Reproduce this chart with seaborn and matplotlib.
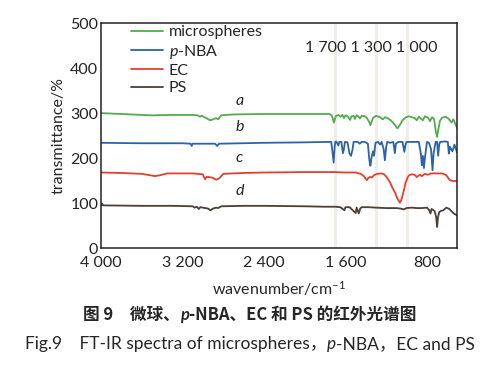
import numpy as np
import pandas as pd
import matplotlib
matplotlib.use("Agg")
import matplotlib.pyplot as plt
import seaborn as sns

# wavenumber (cm-1) / transmittance (%)
wn_micro = [4000, 3900, 3700, 3500, 3300, 3100, 3050, 3030, 3010, 2960, 2930, 2900, 2870, 2850, 2820,
            2700, 2400, 2000, 1760, 1735, 1713, 1695, 1670, 1650, 1630, 1615, 1600, 1580, 1555, 1540,
            1520, 1507, 1490, 1470, 1458, 1440, 1410, 1390, 1370, 1355, 1330, 1300, 1260, 1232, 1210,
            1180, 1150, 1120, 1090, 1070, 1040, 1010, 980, 950, 920, 900, 880, 860, 840, 820, 790,
            770, 750, 730, 712, 700, 690, 672, 650, 620, 590, 560, 540, 505]
t_micro = [300, 299, 297, 295, 296, 296, 295, 292, 294, 288, 284, 286, 289, 286, 295,
           297, 298, 298, 298, 295, 279, 293, 296, 292, 296, 289, 295, 293, 285, 293,
           294, 287, 295, 292, 288, 294, 293, 289, 282, 273, 289, 294, 291, 286, 291,
           288, 283, 275, 266, 272, 284, 290, 293, 291, 289, 284, 292, 288, 284, 293, 290,
           282, 291, 287, 258, 247, 262, 283, 290, 292, 288, 279, 286, 267]

wn_nba = [4000, 3600, 3200, 3120, 3110, 3100, 2880, 2860, 2840, 2400, 2000, 1760, 1740, 1728, 1716,
          1706, 1700, 1690, 1670, 1660, 1640, 1625, 1615, 1605, 1580, 1560, 1545, 1530, 1520, 1480,
          1460, 1440, 1410, 1380, 1365, 1355, 1345, 1330, 1320, 1305, 1280, 1260, 1245, 1225, 1213,
          1200, 1190, 1160, 1130, 1115, 1105, 1080, 1040, 1022, 1010, 1000, 960, 920, 880, 860, 850,
          840, 830, 820, 800, 780, 760, 745, 735, 715, 700, 690, 680, 670, 620, 595, 585, 575, 550,
          530, 505]
t_nba = [234, 233, 233, 232, 227, 232, 232, 227, 232, 234, 235, 236, 236, 215, 190,
         225, 236, 237, 228, 236, 236, 211, 220, 236, 235, 210, 205, 220, 236, 236,
         232, 236, 236, 232, 195, 183, 200, 215, 205, 234, 236, 230, 236, 220, 195,
         225, 236, 234, 236, 211, 232, 236, 236, 214, 230, 236, 236, 236, 236, 210, 184,
         205, 178, 200, 236, 234, 220, 173, 210, 236, 236, 205, 230, 236, 237, 236, 210, 225, 215,
         230, 213]

wn_ec = [4000, 3800, 3600, 3520, 3470, 3420, 3350, 3100, 3000, 2990, 2978, 2965, 2940, 2900, 2870,
         2840, 2800, 2600, 2400, 2000, 1800, 1700, 1600, 1500, 1450, 1420, 1390, 1375, 1360, 1340,
         1320, 1290, 1250, 1220, 1190, 1160, 1140, 1110, 1090, 1065, 1050, 1030, 1010, 990, 975,
         950, 920, 900, 870, 850, 820, 790, 760, 700, 650, 610, 575, 545, 505]
t_ec = [168, 167, 165, 162, 160, 162, 166, 166, 164, 158, 153, 158, 158, 156, 152,
        155, 165, 167, 168, 169, 169, 169, 168, 168, 165, 160, 151, 156, 158, 157,
        162, 165, 166, 164, 156, 145, 135, 122, 110, 101, 108, 125, 145, 157, 162,
        164, 163, 158, 163, 160, 165, 163, 166, 166, 166, 162, 151, 149, 149]

wn_ps = [4000, 3990, 3980, 3600, 3300, 3100, 3080, 3060, 3040, 3025, 3000, 2950, 2925, 2900, 2870,
         2850, 2820, 2600, 2400, 2000, 1800, 1700, 1650, 1610, 1600, 1560, 1500, 1490, 1470, 1455,
         1440, 1380, 1300, 1200, 1100, 1060, 1030, 1000, 950, 900, 850, 800, 780, 765, 755, 740,
         725, 710, 700, 692, 680, 660, 640, 610, 580, 560, 530, 505]
t_ps = [95, 99, 95, 94, 94, 93, 90, 92, 87, 91, 90, 88, 84, 88, 90,
        89, 93, 94, 94, 93, 92, 92, 91, 84, 91, 91, 78, 90, 77, 88,
        91, 91, 90, 89, 89, 88, 86, 89, 90, 89, 89, 90, 85, 77, 87, 85,
        82, 70, 47, 68, 80, 83, 84, 90, 87, 82, 76, 73]

series_names = ["microspheres", "$p$-NBA", "EC", "PS"]
series_colors = ["#54aa4c", "#2e62a9", "#e1402f", "#4b3f37"]
curve_letters = ["a", "b", "c", "d"]
letter_y = [311, 254, 184, 112]
marker_wn = [1700, 1300, 1000]
xticks = [4000, 3200, 2400, 1600, 800]
xtick_labels = ["4 000", "3 200", "2 400", "1 600", "800"]
yticks = [0, 100, 200, 300, 400, 500]

frames = []
for name, w, t in zip(series_names, [wn_micro, wn_nba, wn_ec, wn_ps], [t_micro, t_nba, t_ec, t_ps]):
    frames.append(pd.DataFrame({"wavenumber": w, "transmittance": t, "sample": name}))
df = pd.concat(frames, ignore_index=True)

sns.set_style("white")
plt.rcParams["font.family"] = ["Lato", "DejaVu Sans"]
plt.rcParams["mathtext.fontset"] = "custom"
plt.rcParams["mathtext.rm"] = "Lato"
plt.rcParams["mathtext.it"] = "Lato:italic"

fig = plt.figure(figsize=(5.0, 3.66), dpi=100)
ax = fig.add_axes([0.202, 0.322, 0.712, 0.615])

for w in marker_wn:
    ax.axvline(w, color="#f1eeea", lw=2.2, zorder=0)

sns.lineplot(data=df, x="wavenumber", y="transmittance", hue="sample",
             palette=dict(zip(series_names, series_colors)), hue_order=series_names,
             estimator=None, sort=False, lw=1.3, ax=ax)

ax.set_xlim(4000, 505)
ax.set_ylim(0, 500)
ax.set_xticks(xticks)
ax.set_xticklabels(xtick_labels)
ax.set_yticks(yticks)
ax.tick_params(direction="in", length=4, width=1, labelsize=11.5, colors="#222222")
ax.tick_params(axis="x", pad=6)
ax.tick_params(axis="y", pad=2)
for s in ax.spines.values():
    s.set_linewidth(1.1)
    s.set_color("#222222")
ax.set_xlabel("wavenumber/cm$^{-1}$", fontsize=11.5, labelpad=6)
ax.set_ylabel("transmittance/%", fontsize=11.5, labelpad=3)

handles, labels = ax.get_legend_handles_labels()
ax.legend(handles, labels, loc="upper left", bbox_to_anchor=(0.085, 0.99), frameon=False,
          fontsize=11.5, handlelength=2.0, handletextpad=0.35, labelspacing=0.2,
          borderpad=0, borderaxespad=0)

for letter, y in zip(curve_letters, letter_y):
    ax.text(2640, y, letter, fontsize=11.5, style="italic", ha="center", va="bottom")
ax.text(1343, 444, "1 700 1 300 1 000", fontsize=11.5, ha="center", va="center")


def draw_pieces(y, pieces, size, weight="normal"):
    # place text chunks side by side, centred on the figure
    fig.canvas.draw()
    r = fig.canvas.get_renderer()
    objs = []
    for txt, style, fam in pieces:
        objs.append(fig.text(0, y, txt, fontsize=size, family=fam, style=style,
                             weight=weight, va="center"))
    widths = [o.get_window_extent(r).width / fig.bbox.width for o in objs]
    x = 0.5 - sum(widths) / 2
    for o, wd in zip(objs, widths):
        o.set_x(x)
        x += wd


cjk = ["Noto Sans CJK SC", "Lato"]
lat = ["Lato", "Noto Sans CJK SC"]
draw_pieces(1 - 315 / 366, [("图 9　微球、", "normal", cjk), ("p", "italic", ["Lato"]),
                            ("-NBA、EC 和 PS 的红外光谱图", "normal", cjk)],
            12, weight="bold")
draw_pieces(1 - 344 / 366, [("Fig.9　FT-IR spectra of microspheres，", "normal", lat),
                            ("p", "italic", ["Lato"]), ("-NBA，EC and PS", "normal", lat)],
            12.5)

fig.savefig("out.png", dpi=100)
